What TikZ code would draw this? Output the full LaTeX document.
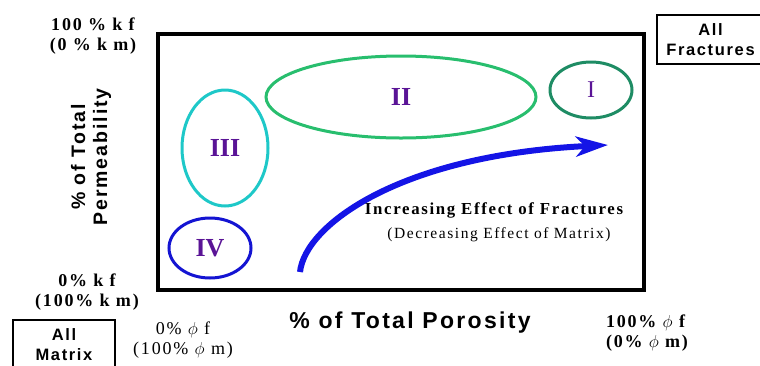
\documentclass[tikz,border=0pt]{standalone}
\usepackage{fontspec}
\setmainfont{Liberation Serif}
\newfontfamily\spacedserif[LetterSpace=10]{Liberation Serif}
\newfontfamily\spacedsans[LetterSpace=10]{Liberation Sans}
\usetikzlibrary{arrows.meta, positioning, shapes.geometric}
\definecolor{cZoneI}{RGB}{30,140,100}
\definecolor{cZoneII}{RGB}{40,190,110}
\definecolor{cZoneIII}{RGB}{30,200,200}
\definecolor{cZoneIV}{RGB}{20,20,210}
\definecolor{cRoman}{RGB}{90,20,150}
\definecolor{cTrend}{RGB}{20,20,230}

\begin{document}
\begin{tikzpicture}[x=1pt, y=-1pt,
      zone/.style={ellipse, draw, line width=3pt, inner sep=0pt, text=cRoman,
                   font=\fontsize{26}{26}\selectfont\bfseries},
      endlbl/.style={align=center, font=\fontsize{18}{20}\selectfont\spacedserif\bfseries},
      sidelbl/.style={align=center, font=\fontsize{18}{20}\selectfont\spacedserif},
      axisname/.style={align=center, font=\fontsize{19.5}{22}\selectfont\spacedsans\bfseries},
      endbox/.style={draw, line width=1.2pt, align=center, inner sep=0pt,
                     font=\fontsize{16.5}{20}\selectfont\spacedsans\bfseries},
      trend/.style={draw=cTrend, line width=6pt,
                    -{Stealth[length=32pt, width=20pt, inset=9pt]}}]
    \useasboundingbox (0,0) rectangle (760,365);
    % plot frame
    \node[draw, line width=4pt, minimum width=486pt, minimum height=256pt, inner sep=0pt]
      (plot) at (401,162) {};
    % zones
    \node[zone, draw=cZoneIII, minimum width=86pt, minimum height=116pt] (z3) at (225,148) {III};
    \node[zone, draw=cZoneIV,  minimum width=82pt, minimum height=60pt]  (z4) at (210,248) {IV};
    \node[zone, draw=cZoneII,  minimum width=270pt, minimum height=82pt] (z2) at (401,97)  {II};
    \node[zone, draw=cZoneI,   minimum width=82pt, minimum height=56pt, font=\fontsize{24}{24}\selectfont]
      (z1) at (591,90) {I};
    % trend arrow
    \coordinate (arrS) at (300,272);
    \coordinate (arrE) at (608,145);
    \draw[trend] (arrS) .. controls (305,225) and (400,155) .. (arrE);
    \node[font=\fontsize{16.8}{16}\selectfont\spacedserif\bfseries] (incr) at (494,210)
      {Increasing Effect of Fractures};
    \node[font=\fontsize{15.5}{14}\selectfont\spacedserif] (decr) at (499,235)
      {(Decreasing Effect of Matrix)};
    % axis labels
    \node[axisname, rotate=90] (perm) at (91,157) {\% of Total\\Permeability};
    \node[axisname, font=\fontsize{23}{24}\selectfont\spacedsans\bfseries] (poro) at (410,323)
      {\% of Total Porosity};
    \node[endlbl] (kfTop) at (93,36)  {100 \% k f\\(0 \% k m)};
    \node[endlbl] (kfBot) at (87,292) {0\% k f\\(100\% k m)};
    \node[sidelbl] (phiL) at (183,340) {0\% $\phi$ f\\(100\% $\phi$ m)};
    \node[endlbl, align=left] (phiR) at (647,333) {100\% $\phi$ f\\(0\% $\phi$ m)};
    % end members
    \node[endbox, minimum width=107pt, minimum height=49pt] (allFrac) at (710.5,39.5) {All\\Fractures};
    \node[endbox, minimum width=102pt, minimum height=50pt] (allMat)  at (64,345)  {All\\Matrix};
  \end{tikzpicture}
\end{document}
